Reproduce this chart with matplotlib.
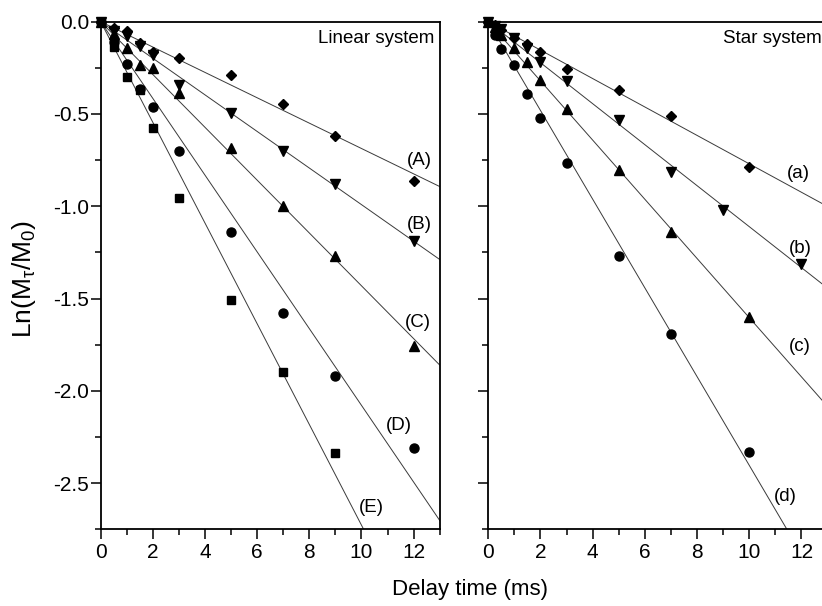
import numpy as np
import matplotlib.pyplot as plt
from matplotlib.ticker import MultipleLocator, FormatStrFormatter

plt.rcParams['font.family'] = ['Liberation Sans', 'DejaVu Sans']
plt.rcParams['mathtext.fontset'] = 'custom'
plt.rcParams['mathtext.rm'] = 'Liberation Sans'
plt.rcParams['mathtext.it'] = 'Liberation Sans:italic'

# linear system, delay times (ms) and Ln(Mt/M0)
lin_t = [0, 0.5, 1, 1.5, 2, 3, 5, 7, 9, 12]
lin_A = [0, -0.032, -0.050, -0.118, -0.162, -0.195, -0.288, -0.448, -0.621, -0.863]
lin_B = [0, -0.050, -0.077, -0.130, -0.180, -0.343, -0.494, -0.700, -0.881, -1.190]
lin_C = [0, -0.065, -0.142, -0.232, -0.253, -0.388, -0.687, -1.000, -1.270, -1.757]
lin_D = [0, -0.110, -0.227, -0.365, -0.460, -0.698, -1.142, -1.579, -1.919, -2.308]
lin_E_t = [0, 0.5, 1, 1.5, 2, 3, 5, 7, 9]
lin_E = [0, -0.135, -0.298, -0.370, -0.577, -0.957, -1.506, -1.898, -2.335]

# star system
star_t = [0, 0.25, 0.5, 1, 1.5, 2, 3, 5, 7, 10]
star_a = [0, -0.020, -0.045, -0.086, -0.120, -0.165, -0.255, -0.369, -0.509, -0.788]
star_b_t = [0, 0.25, 0.5, 1, 1.5, 2, 3, 5, 7, 9, 12]
star_b = [0, -0.025, -0.041, -0.090, -0.140, -0.217, -0.324, -0.534, -0.815, -1.020, -1.313]
star_c = [0, -0.030, -0.070, -0.142, -0.217, -0.316, -0.473, -0.806, -1.137, -1.601]
star_d = [0, -0.070, -0.146, -0.235, -0.390, -0.523, -0.768, -1.272, -1.694, -2.333]

lin_labels = ["(A)", "(B)", "(C)", "(D)", "(E)"]
star_labels = ["(a)", "(b)", "(c)", "(d)"]

# label positions in data coords (layout only)
lin_label_pos = [(12.24, -0.75), (12.24, -1.10), (12.17, -1.63), (11.44, -2.19), (10.38, -2.63)]
star_label_pos = [(11.89, -0.825), (11.94, -1.23), (11.92, -1.76), (11.37, -2.57)]

lin_series = [(lin_t, lin_A, "D", 5), (lin_t, lin_B, "v", 7), (lin_t, lin_C, "^", 7),
              (lin_t, lin_D, "o", 6.5), (lin_E_t, lin_E, "s", 5.5)]
star_series = [(star_t, star_a, "D", 5), (star_b_t, star_b, "v", 7),
               (star_t, star_c, "^", 7), (star_t, star_d, "o", 6.5)]

XMAX = 13
YMIN = -2.75


def slope_through_origin(t, y):
    t = np.asarray(t, float)
    y = np.asarray(y, float)
    return (t * y).sum() / (t * t).sum()


def draw_panel(ax, series, labels, label_pos, title, show_ylabels):
    xs = np.array([0, XMAX])
    for (t, y, m, ms), lab, pos in zip(series, labels, label_pos):
        k = slope_through_origin(t, y)
        ax.plot(xs, k * xs, color="#3a3a3a", lw=0.7, zorder=1)
        ax.plot(t, y, m, color="black", ms=ms, mec="black", clip_on=False, zorder=3)
        ax.text(pos[0], pos[1], lab, fontsize=13.5, ha="center", va="center")
    ax.text(12.78, -0.09, title, fontsize=13.5, ha="right", va="center")
    ax.set_xlim(0, XMAX)
    ax.set_ylim(YMIN, 0)
    ax.xaxis.set_major_locator(MultipleLocator(2))
    ax.xaxis.set_minor_locator(MultipleLocator(1))
    ax.yaxis.set_major_locator(MultipleLocator(0.5))
    ax.yaxis.set_minor_locator(MultipleLocator(0.25))
    ax.yaxis.set_major_formatter(FormatStrFormatter("%.1f"))
    ax.tick_params(which="major", direction="out", length=7, width=1.1, labelsize=15, pad=3)
    ax.tick_params(which="minor", direction="out", length=4, width=1.1)
    ax.tick_params(axis="y", which="major", pad=1.5)
    if not show_ylabels:
        ax.tick_params(axis="y", labelleft=False)
    for sp in ax.spines.values():
        sp.set_linewidth(1.3)


fig = plt.figure(figsize=(8.22, 6.06), dpi=100)
ax1 = fig.add_axes([0.1225, 0.1266, 0.4124, 0.8376])
ax2 = fig.add_axes([0.594, 0.1266, 0.4128, 0.8376])

draw_panel(ax1, lin_series, lin_labels, lin_label_pos, "Linear system", True)
draw_panel(ax2, star_series, star_labels, star_label_pos, "Star system", False)

fig.text(24 / 822, 1 - 279 / 606, r"Ln(M$_{\mathrm{\tau}}$/M$_0$)", rotation=90,
         fontsize=19, ha="center", va="center")
fig.text(470 / 822, 1 - 590 / 606, "Delay time (ms)", fontsize=16, ha="center", va="center")

fig.savefig("out.png", dpi=100)
